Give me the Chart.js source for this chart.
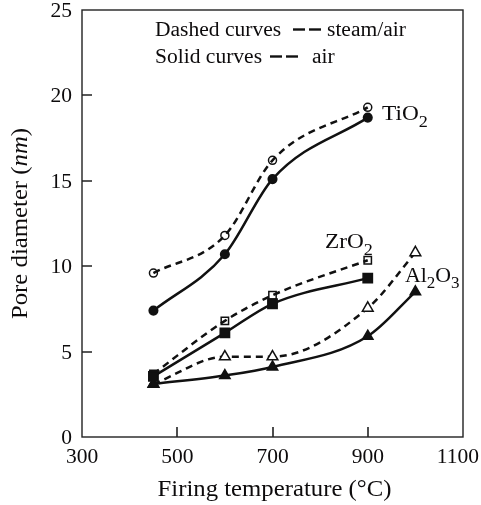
<!DOCTYPE html>
<html>
<head>
<meta charset="utf-8">
<script src="https://cdn.jsdelivr.net/npm/chart.js@4.4.0/dist/chart.umd.min.js"></script>
<style>
body { margin: 0; background: #fff; }
canvas { display: block; }
</style>
</head>
<body>
<canvas id="chart" width="481" height="505"></canvas>
<script>
(function () {

// firing temperatures, degC
var temps = [450, 600, 700, 900];
var tempsAl = [450, 600, 700, 900, 1000];

// pore diameter, nm (air = solid, steam/air = dashed)
var tiAir = [7.4, 10.7, 15.1, 18.7];
var tiSteam = [9.6, 11.8, 16.2, 19.3];
var zrAir = [3.55, 6.1, 7.8, 9.3];
var zrSteam = [3.7, 6.8, 8.3, 10.35];
var alAir = [3.1, 3.6, 4.1, 5.9, 8.5];
var alSteam = [3.1, 4.7, 4.7, 7.55, 10.8];

var xTicks = [300, 500, 700, 900, 1100];
var yTicks = [0, 5, 10, 15, 20, 25];

var SERIF = '"Liberation Serif", "Times New Roman", serif';
var INK = '#0d0b0c';
var LINE = '#111';

function toPoints(xs, ys) {
	var list = [];
	for (var i = 0, len = ys.length; i < len; i++) {
		list.push({ x: xs[i], y: ys[i] });
	}
	return list;
}

function series(xs, ys, dashed, style, radius, fill) {
	return {
		data: toPoints(xs, ys),
		borderColor: LINE,
		borderWidth: 2.5,
		borderDash: dashed ? [7, 5] : [],
		cubicInterpolationMode: 'monotone',
		pointStyle: style,
		pointRadius: radius,
		pointBackgroundColor: fill,
		pointBorderColor: LINE,
		pointBorderWidth: 1.5,
		fill: false
	};
}

// draw a run of text pieces, some of them subscript or italic
function drawRuns(ctx, parts, x, y, size, stretch, align) {
	ctx.save();
	ctx.translate(x, y);
	ctx.scale(stretch, 1);
	var fonts = [], widths = [], total = 0;
	for (var i = 0; i < parts.length; i++) {
		var p = parts[i];
		var sz = p.sub ? size * 0.78 : size;
		fonts[i] = (p.italic ? 'italic ' : '') + sz + 'px ' + SERIF;
		ctx.font = fonts[i];
		widths[i] = ctx.measureText(p.t).width;
		total += widths[i];
	}
	var cx = 0;
	if (align === 'center') cx = -total / 2;
	if (align === 'right') cx = -total;
	ctx.fillStyle = INK;
	ctx.textBaseline = 'alphabetic';
	ctx.textAlign = 'left';
	for (var j = 0; j < parts.length; j++) {
		ctx.font = fonts[j];
		ctx.fillText(parts[j].t, cx, parts[j].sub ? size * 0.3 : 0);
		cx += widths[j];
	}
	ctx.restore();
	return total * stretch;
}

function dash(ctx, x1, x2, y) {
	ctx.beginPath();
	ctx.moveTo(x1, y);
	ctx.lineTo(x2, y);
	ctx.stroke();
}

var decor = {
	id: 'decor',
	afterDraw: function (chart) {
		var ctx = chart.ctx;
		var area = chart.chartArea;
		var xs = chart.scales.x;
		var ys = chart.scales.y;

		ctx.save();
		ctx.strokeStyle = '#222';
		ctx.lineWidth = 1.4;
		ctx.strokeRect(area.left, area.top, area.right - area.left, area.bottom - area.top);

		// inward tick marks
		ctx.lineWidth = 1.6;
		ctx.beginPath();
		for (var i = 1; i < xTicks.length - 1; i++) {
			var px = Math.round(xs.getPixelForValue(xTicks[i]));
			ctx.moveTo(px, area.bottom);
			ctx.lineTo(px, area.bottom - 10);
		}
		for (var j = 1; j < yTicks.length - 1; j++) {
			var py = Math.round(ys.getPixelForValue(yTicks[j]));
			ctx.moveTo(area.left, py);
			ctx.lineTo(area.left + 10, py);
		}
		ctx.stroke();

		// tick labels
		for (var a = 0; a < xTicks.length; a++) {
			var tx = xs.getPixelForValue(xTicks[a]);
			var isLast = a === xTicks.length - 1;
			drawRuns(ctx, [{ t: String(xTicks[a]) }], isLast ? 479 : tx, 463, 21.5, 1,
				isLast ? 'right' : 'center');
		}
		for (var b = 0; b < yTicks.length; b++) {
			drawRuns(ctx, [{ t: String(yTicks[b]) }], 72, ys.getPixelForValue(yTicks[b]) + 7, 21.5, 1, 'right');
		}

		// key in the upper part of the plot
		ctx.strokeStyle = LINE;
		ctx.lineWidth = 2.4;
		drawRuns(ctx, [{ t: 'Dashed curves' }], 155, 36, 20.5, 1.05);
		dash(ctx, 293, 305, 29.5);
		dash(ctx, 309, 321, 29.5);
		drawRuns(ctx, [{ t: 'steam/air' }], 327, 36, 20.5, 1.05);
		drawRuns(ctx, [{ t: 'Solid curves' }], 155, 63, 20.5, 1.05);
		dash(ctx, 270, 282, 56.5);
		dash(ctx, 286, 298, 56.5);
		drawRuns(ctx, [{ t: 'air' }], 312, 63, 20.5, 1.05);

		// oxide names next to their curves
		drawRuns(ctx, [{ t: 'TiO' }, { t: '2', sub: true }],
			xs.getPixelForValue(930), ys.getPixelForValue(18.56), 22, 1.06);
		drawRuns(ctx, [{ t: 'ZrO' }, { t: '2', sub: true }],
			xs.getPixelForValue(810), ys.getPixelForValue(11.07), 22, 1.06);
		drawRuns(ctx, [{ t: 'Al' }, { t: '2', sub: true }, { t: 'O' }, { t: '3', sub: true }],
			xs.getPixelForValue(978), ys.getPixelForValue(9.07), 21, 1.04);

		// axis titles
		drawRuns(ctx, [{ t: 'Firing temperature (°C)' }],
			(area.left + area.right) / 2 + 2, 496, 22.5, 1.1, 'center');
		ctx.save();
		ctx.translate(27, (area.top + area.bottom) / 2);
		ctx.rotate(-Math.PI / 2);
		drawRuns(ctx, [{ t: 'Pore diameter (' }, { t: 'nm', italic: true }, { t: ')' }],
			0, 0, 22.5, 1.1, 'center');
		ctx.restore();

		ctx.restore();
	}
};

new Chart(document.getElementById('chart'), {
	type: 'line',
	data: {
		datasets: [
			series(temps, tiAir, false, 'circle', 4.3, LINE),
			series(temps, zrAir, false, 'rect', 6.6, LINE),
			series(tempsAl, alAir, false, 'triangle', 6, LINE),
			series(temps, tiSteam, true, 'circle', 4, 'rgba(0,0,0,0)'),
			series(temps, zrSteam, true, 'rect', 5.2, 'rgba(0,0,0,0)'),
			series(tempsAl, alSteam, true, 'triangle', 6.2, '#fff')
		]
	},
	options: {
		responsive: false,
		devicePixelRatio: 1,
		animation: false,
		layout: { padding: { top: 10, right: 18, left: 0, bottom: 0 } },
		plugins: {
			legend: { display: false },
			tooltip: { enabled: false }
		},
		scales: {
			x: {
				type: 'linear',
				min: 300,
				max: 1100,
				afterBuildTicks: function (scale) {
					scale.ticks = xTicks.map(function (v) { return { value: v }; });
				},
				afterFit: function (scale) {
					scale.height = 68;
					scale.paddingLeft = 0;
					scale.paddingRight = 0;
				},
				grid: { display: false, drawTicks: false },
				border: { display: false },
				ticks: { display: false }
			},
			y: {
				min: 0,
				max: 25,
				afterBuildTicks: function (scale) {
					scale.ticks = yTicks.map(function (v) { return { value: v }; });
				},
				afterFit: function (scale) {
					scale.width = 82;
					scale.paddingTop = 0;
					scale.paddingBottom = 0;
				},
				grid: { display: false, drawTicks: false },
				border: { display: false },
				ticks: { display: false }
			}
		}
	},
	plugins: [decor]
});

}());
</script>
</body>
</html>
